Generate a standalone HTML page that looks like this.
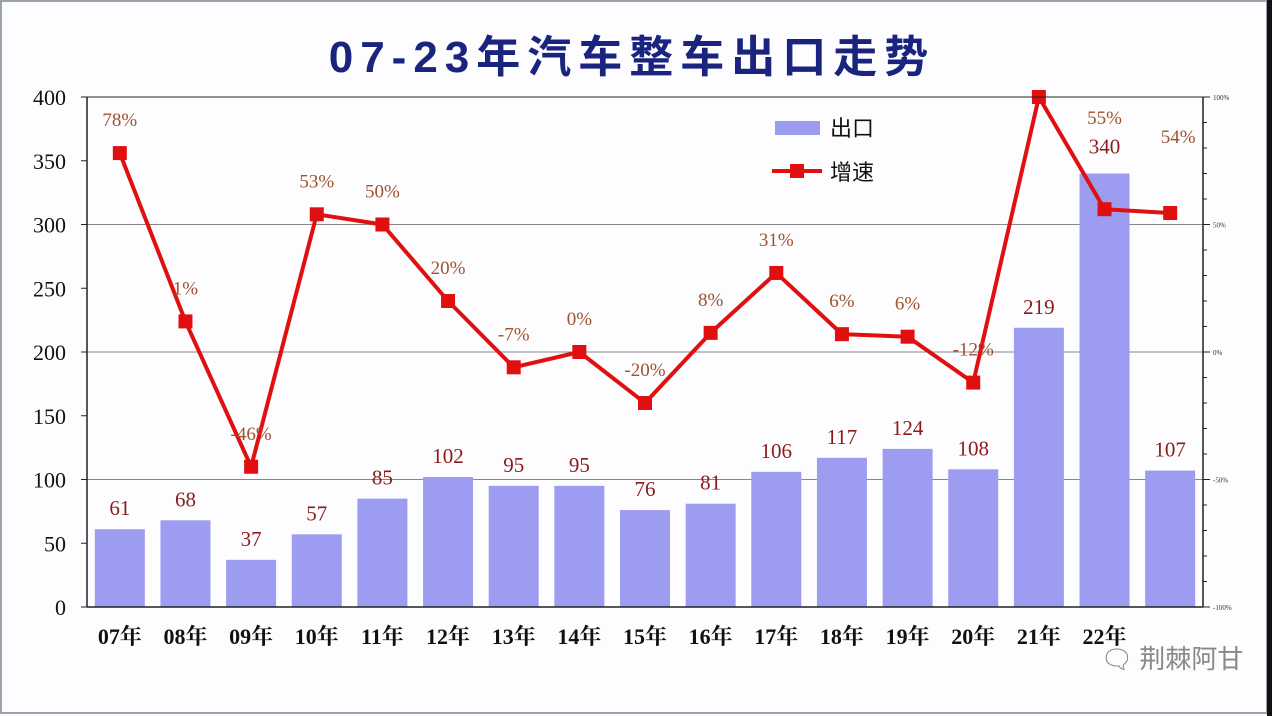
<!DOCTYPE html>
<html><head><meta charset="utf-8"><style>
body{margin:0;background:#fff;}
svg{display:block;font-family:"Liberation Serif","Noto Serif CJK SC",serif;}
</style></head><body>
<svg id="chart" width="1272" height="716" viewBox="0 0 1272 716">
<rect x="0" y="0" width="1272" height="716" fill="#fdfdff"/>
<rect x="1" y="1" width="1266" height="712" fill="none" stroke="#9aa3ad" stroke-width="2"/>
<rect x="1267" y="0" width="5" height="716" fill="#111"/>
<text x="632" y="72" text-anchor="middle" font-family="Liberation Sans,'Noto Sans CJK SC',sans-serif" font-size="44" font-weight="bold" fill="#1a237e" letter-spacing="7">07-23年汽车整车出口走势</text>
<g id="grid"></g><g id="bars"></g><g id="line"></g><g id="axes"></g>
<g>
<rect x="775" y="121" width="45" height="14" fill="#9c9cf0"/>
<text x="830" y="136" font-family="'Noto Sans CJK SC',sans-serif" font-size="22" fill="#111">出口</text>
<line x1="772" y1="171" x2="822" y2="171" stroke="#e01010" stroke-width="4"/>
<rect x="790" y="164" width="14" height="14" fill="#e01010"/>
<text x="830" y="180" font-family="'Noto Sans CJK SC',sans-serif" font-size="22" fill="#111">增速</text>
</g>
<text x="1172" y="668" text-anchor="middle" font-family="'Noto Sans CJK SC',sans-serif" font-size="26" fill="#888">🗨 荆棘阿甘</text>
</svg>
<script>
const categories=["07年","08年","09年","10年","11年","12年","13年","14年","15年","16年","17年","18年","19年","20年","21年","22年",""];
const exportValues=[61,68,37,57,85,102,95,95,76,81,106,117,124,108,219,340,107];
const growthValues=[78,12,-45,54,50,20,-6,0,-20,7.5,31,7,6,-12,100,56,54.5];
const growthLabels=["78%","1%","-46%","53%","50%","20%","-7%","0%","-20%","8%","31%","6%","6%","-12%","","55%","54%"];
const leftTicks=[0,50,100,150,200,250,300,350,400];
const rightTicks=["-100%","-50%","0%","50%","100%"];
const NS="http://www.w3.org/2000/svg";
const L=87,R=1203,T=97,B=607;
const n=categories.length,bw=(R-L)/n;
const yL=v=>B-(v/400)*(B-T);
const yR=v=>B-((v+100)/200)*(B-T);
const xC=i=>L+bw*(i+0.5);
function mk(tag,attrs,parent,text){const e=document.createElementNS(NS,tag);for(const k in attrs)e.setAttribute(k,attrs[k]);if(text!=null)e.textContent=text;document.getElementById(parent).appendChild(e);return e;}
[100,200,300].forEach(v=>{const g=mk('line',{x1:L,x2:R,y1:yL(v),y2:yL(v),stroke:'#888','stroke-width':1},'grid');

});
let a=mk('line',{x1:L,x2:L,y1:T,y2:B,stroke:'#222','stroke-width':1.5},'axes');


a=mk('line',{x1:R,x2:R,y1:T,y2:B,stroke:'#222','stroke-width':1.5},'axes');


a=mk('line',{x1:L,x2:R,y1:B,y2:B,stroke:'#222','stroke-width':1.5},'axes');


a=mk('line',{x1:L,x2:R,y1:T,y2:T,stroke:'#222','stroke-width':1},'axes');


leftTicks.forEach(v=>{mk('line',{x1:L-6,x2:L,y1:yL(v),y2:yL(v),stroke:'#222'},'axes');
const t=mk('text',{x:66,y:yL(v)+8,'text-anchor':'end','font-size':22,fill:'#111'},'axes',v);

});
for(let k=0;k<=20;k++){const y=T+(B-T)*k/20;mk('line',{x1:R,x2:R+(k%5?4:7),y1:y,y2:y,stroke:'#222'},'axes');}
rightTicks.forEach((s,i)=>{const v=-100+50*i;const t=mk('text',{x:1213,y:yR(v)+3,'font-size':7,fill:'#333'},'axes',s);

});
categories.forEach((c,i)=>{if(!c)return;const t=mk('text',{x:xC(i),y:644,'text-anchor':'middle','font-size':22,fill:'#111','font-weight':'bold'},'axes',c);

});
exportValues.forEach((v,i)=>{const r=mk('rect',{x:xC(i)-25,y:yL(v),width:50,height:B-yL(v),fill:'#9c9cf0'},'bars');


const t=mk('text',{x:xC(i),y:yL(v)-(i==15?20:14),'text-anchor':'middle','font-size':21,fill:'#8b1a1a'},'bars',v);

});
const pts=growthValues.map((v,i)=>xC(i)+','+yR(v)).join(' ');
const pl=mk('polyline',{points:pts,fill:'none',stroke:'#e01010','stroke-width':4,'stroke-linejoin':'round'},'line');


growthValues.forEach((v,i)=>{const m=mk('rect',{x:xC(i)-7,y:yR(v)-7,width:14,height:14,fill:'#e01010'},'line');


if(growthLabels[i]){const off=i==16?70:(i==15?85:27);const t=mk('text',{x:xC(i)+(i==16?8:0),y:yR(v)-off,'text-anchor':'middle','font-size':19,fill:'#a0522d'},'line',growthLabels[i]);

}});
</script>
</body></html>
